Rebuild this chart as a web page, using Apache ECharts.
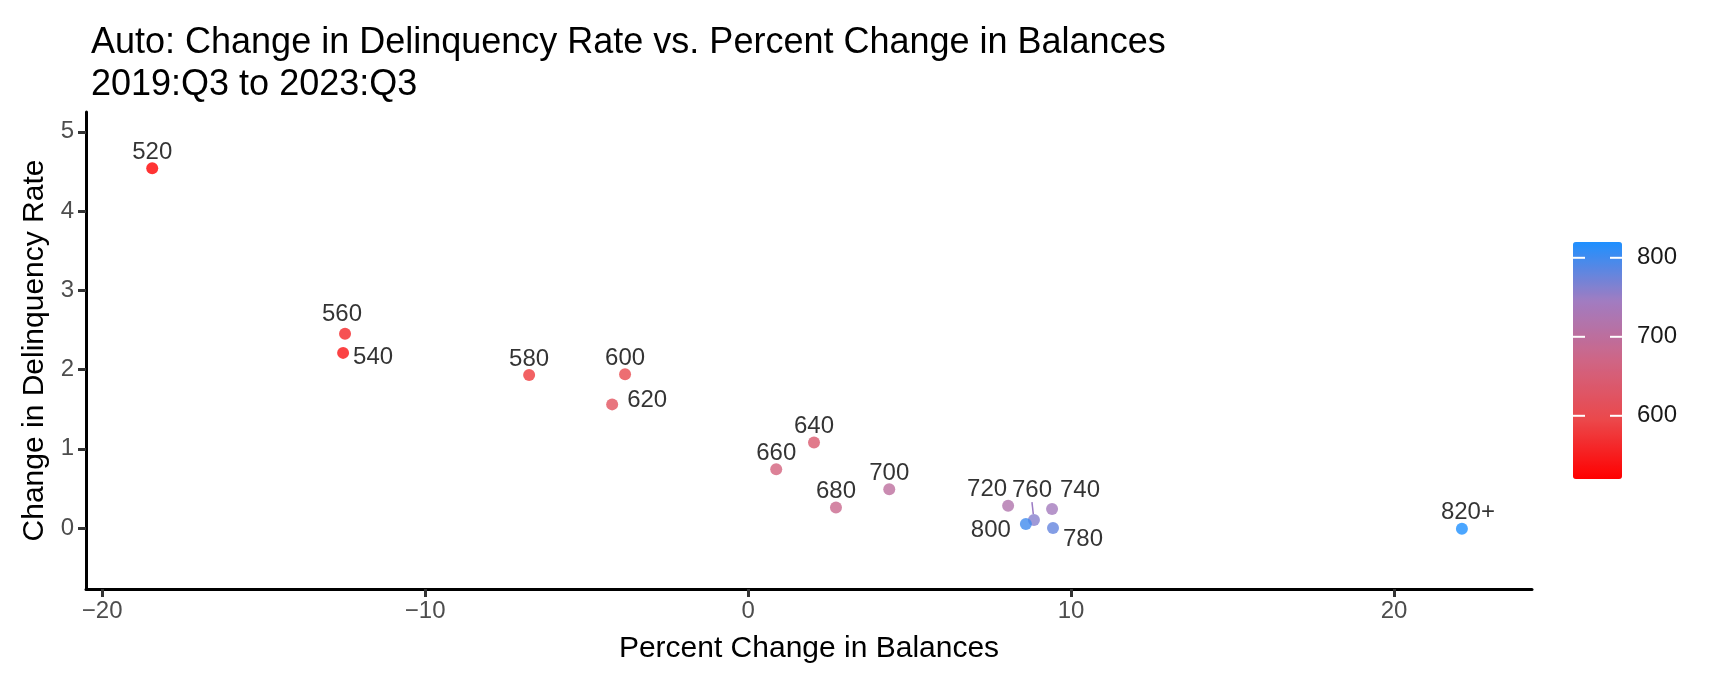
<!DOCTYPE html>
<html>
<head>
<meta charset="utf-8">
<script src="https://cdn.jsdelivr.net/npm/echarts@6/dist/echarts.min.js"></script>
<style>html,body{margin:0;padding:0;background:#fff}#chart{width:1718px;height:673px}</style>
</head>
<body>
<div id="chart"></div>
<script>
// ---- data ----
const scoreLabels = ['520','540','560','580','600','620','640','660','680','700','720','740','760','780','800','820+'];
const scoreValues = [520,540,560,580,600,620,640,660,680,700,720,740,760,780,800,820];
const pctChangeBalances = [-18.45,-12.54,-12.48,-6.78,-3.81,-4.21,2.04,0.87,2.72,4.37,8.05,9.41,8.85,9.44,8.60,22.1];
const delinqRateChange = [4.54,2.21,2.45,1.93,1.94,1.56,1.08,0.74,0.26,0.49,0.28,0.24,0.10,0.00,0.05,-0.01];
const xTicks = [-20,-10,0,10,20];
const yTicks = [0,1,2,3,4,5];
const legendTicks = [600,700,800];

// ---- label placement (styling only) ----
const labelPlace = {
  '540': {pos:'right', dist:4, dx:0, dy:4},
  '560': {pos:'top', dist:-2, dx:-3, dy:-3},
  '620': {pos:'right', dist:9, dx:0, dy:-4},
  '720': {pos:'top', dist:-2, dx:-21, dy:0},
  '740': {pos:'top', dist:-2, dx:28, dy:-3},
  '760': {pos:'top', dist:-2, dx:-2, dy:-14, line:true},
  '780': {pos:'right', dist:4, dx:0, dy:11},
  '800': {pos:'left', dist:9, dx:0, dy:6},
  '820+': {pos:'top', dist:-2, dx:6, dy:0}
};
const FONT = 'Liberation Sans, Arial, sans-serif';

const points = scoreLabels.map((name, i) => {
  const p = labelPlace[name] || {pos:'top', dist:-2, dx:0, dy:0};
  const item = {
    name: name,
    value: [pctChangeBalances[i], delinqRateChange[i], scoreValues[i]],
    label: {position: p.pos, distance: p.dist}
  };
  if (p.line) item.labelLine = {show: true, lineStyle: {color: '#9b7bc4', width: 1.5}};
  return item;
});

const chart = echarts.init(document.getElementById('chart'), null, {renderer: 'canvas'});
chart.setOption({
  backgroundColor: '#fff',
  animation: false,
  textStyle: {fontFamily: FONT},
  title: {
    text: 'Auto: Change in Delinquency Rate vs. Percent Change in Balances\n2019:Q3 to 2023:Q3',
    left: 86, top: 17,
    textStyle: {fontFamily: FONT, fontSize: 36, fontWeight: 'normal', color: '#000', lineHeight: 42}
  },
  grid: [
    {left: 86, top: 112, width: 1446, height: 477},
    {left: 1573, top: 242, width: 49, height: 237}
  ],
  xAxis: [
    {
      type: 'value', gridIndex: 0, min: -20.5, max: 24.27,
      name: 'Percent Change in Balances', nameLocation: 'middle', nameGap: 45,
      nameTextStyle: {fontFamily: FONT, fontSize: 30, color: '#000'},
      axisLine: {show: true, onZero: false, lineStyle: {color: '#000', width: 3}},
      axisTick: {show: true, length: 8, lineStyle: {color: '#333', width: 3}, customValues: xTicks},
      axisLabel: {fontFamily: FONT, fontSize: 24, color: '#4D4D4D', margin: 10, customValues: xTicks,
        formatter: v => (v < 0 ? '\u2212' + Math.abs(v) : String(v))},
      splitLine: {show: false}
    },
    {type: 'value', gridIndex: 1, min: 0, max: 1, show: false}
  ],
  yAxis: [
    {
      type: 'value', gridIndex: 0, min: -0.77, max: 5.25,
      name: 'Change in Delinquency Rate', nameLocation: 'middle', nameGap: 36,
      nameTextStyle: {fontFamily: FONT, fontSize: 30, color: '#000'},
      axisLine: {show: true, onZero: false, lineStyle: {color: '#000', width: 3}},
      axisTick: {show: true, length: 8, lineStyle: {color: '#333', width: 3}, customValues: yTicks},
      axisLabel: {fontFamily: FONT, fontSize: 24, color: '#4D4D4D', margin: 12, customValues: yTicks},
      splitLine: {show: false}
    },
    {
      type: 'value', gridIndex: 1, min: 520, max: 820, position: 'right',
      axisLine: {show: false},
      axisTick: {show: false},
      axisLabel: {fontFamily: FONT, fontSize: 24, color: '#1a1a1a', margin: 15, customValues: legendTicks},
      splitLine: {show: false}
    }
  ],
  visualMap: {
    type: 'continuous', seriesIndex: 0, dimension: 2,
    min: 520, max: 820, calculable: false, text: null, showLabel: false,
    orient: 'vertical', left: 1573, top: 242, itemWidth: 49, itemHeight: 237, padding: 0,
    inRange: {color: ['#FF0000', '#EB484B', '#CF6585', '#A17CC1', '#1E90FF']}
  },
  series: [
    {
      type: 'scatter', xAxisIndex: 0, yAxisIndex: 0,
      symbolSize: 12,
      data: points,
      label: {show: true, formatter: '{b}', fontFamily: FONT, fontSize: 24, lineHeight: 24, color: '#000'},
      labelLayout: function (params) {
        const p = labelPlace[scoreLabels[params.dataIndex]];
        return p ? {dx: p.dx, dy: p.dy} : {};
      },
      emphasis: {disabled: true}
    },
    {
      type: 'custom', xAxisIndex: 1, yAxisIndex: 1, z: 20, silent: true,
      data: legendTicks.map(v => [v]),
      encode: {y: 0},
      renderItem: function (params, api) {
        const v = api.value(0);
        const a = api.coord([0, v]);
        const b = api.coord([1, v]);
        const len = 12;
        const st = {stroke: '#fff', lineWidth: 2};
        return {
          type: 'group',
          children: [
            {type: 'line', shape: {x1: a[0], y1: a[1], x2: a[0] + len, y2: a[1]}, style: st},
            {type: 'line', shape: {x1: b[0] - len, y1: b[1], x2: b[0], y2: b[1]}, style: st}
          ]
        };
      }
    }
  ]
});
</script>
</body>
</html>
